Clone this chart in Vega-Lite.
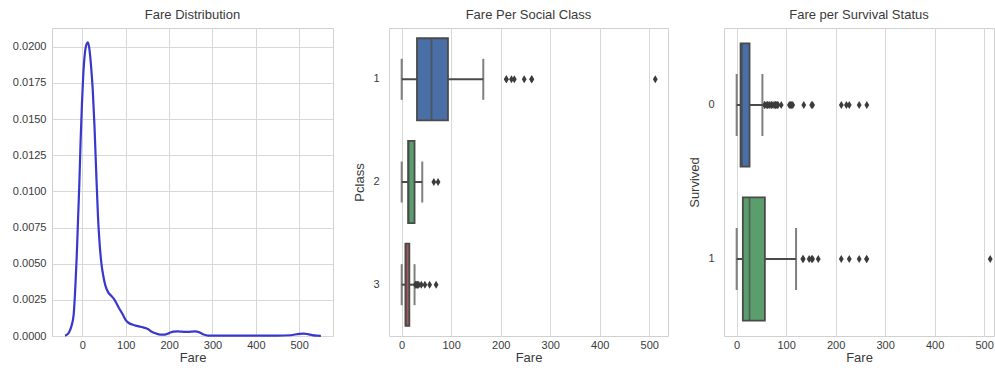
{
  "$schema": "https://vega.github.io/schema/vega-lite/v6.json",
  "padding": {"left": 11, "top": 8, "right": 0, "bottom": 0},
  "background": "white",
  "bounds": "flush",
  "spacing": 56,
  "resolve": {"scale": {"color": "independent"}},
  "config": {
    "font": "Liberation Sans",
    "view": {"stroke": "#d0d0d0", "strokeWidth": 1},
    "axis": {
      "domain": false, "ticks": false, "tickSize": 0,
      "labelFont": "Liberation Sans", "labelFontSize": 11, "labelColor": "#3a3a3a",
      "titleFont": "Liberation Sans", "titleFontSize": 13, "titleFontWeight": "normal", "titleColor": "#3a3a3a",
      "gridColor": "#d8d8d8", "gridWidth": 1
    },
    "axisX": {"labelPadding": 3, "titlePadding": 1},
    "title": {"font": "Liberation Sans", "fontSize": 13, "fontWeight": "normal", "color": "#3a3a3a", "offset": 6}
  },
  "datasets": {
    "kde": [
      {"Fare": -40, "Density": 0.00003}, {"Fare": -35, "Density": 0.0001}, {"Fare": -30, "Density": 0.0003},
      {"Fare": -25, "Density": 0.0007}, {"Fare": -20, "Density": 0.0015}, {"Fare": -16, "Density": 0.0035},
      {"Fare": -13, "Density": 0.0055}, {"Fare": -10, "Density": 0.008}, {"Fare": -7, "Density": 0.0105},
      {"Fare": -4, "Density": 0.0135}, {"Fare": -1, "Density": 0.016}, {"Fare": 2, "Density": 0.018},
      {"Fare": 6, "Density": 0.0196}, {"Fare": 10, "Density": 0.0202}, {"Fare": 13, "Density": 0.0203},
      {"Fare": 16, "Density": 0.0199}, {"Fare": 20, "Density": 0.0187}, {"Fare": 24, "Density": 0.017},
      {"Fare": 28, "Density": 0.0145}, {"Fare": 32, "Density": 0.0113}, {"Fare": 36, "Density": 0.0083},
      {"Fare": 40, "Density": 0.0063}, {"Fare": 44, "Density": 0.005}, {"Fare": 48, "Density": 0.0042},
      {"Fare": 53, "Density": 0.0035}, {"Fare": 60, "Density": 0.003}, {"Fare": 66, "Density": 0.0028},
      {"Fare": 72, "Density": 0.0026}, {"Fare": 78, "Density": 0.0023}, {"Fare": 85, "Density": 0.0019},
      {"Fare": 93, "Density": 0.0015}, {"Fare": 100, "Density": 0.0011}, {"Fare": 107, "Density": 0.0009},
      {"Fare": 115, "Density": 0.0008}, {"Fare": 125, "Density": 0.0007}, {"Fare": 140, "Density": 0.0006},
      {"Fare": 150, "Density": 0.0005}, {"Fare": 160, "Density": 0.0003}, {"Fare": 170, "Density": 0.00017},
      {"Fare": 180, "Density": 0.0001}, {"Fare": 190, "Density": 0.0001}, {"Fare": 200, "Density": 0.0002},
      {"Fare": 210, "Density": 0.0003}, {"Fare": 220, "Density": 0.00032}, {"Fare": 230, "Density": 0.0003},
      {"Fare": 240, "Density": 0.00028}, {"Fare": 250, "Density": 0.0003}, {"Fare": 260, "Density": 0.00032},
      {"Fare": 270, "Density": 0.00025}, {"Fare": 280, "Density": 0.0001}, {"Fare": 290, "Density": 0.00003},
      {"Fare": 300, "Density": 0.00002}, {"Fare": 350, "Density": 0.00002}, {"Fare": 400, "Density": 0.00002},
      {"Fare": 450, "Density": 0.00002}, {"Fare": 480, "Density": 0.00005}, {"Fare": 500, "Density": 0.00015},
      {"Fare": 510, "Density": 0.00017}, {"Fare": 520, "Density": 0.00013}, {"Fare": 530, "Density": 0.00006},
      {"Fare": 540, "Density": 0.00002}, {"Fare": 550, "Density": 0.00001}
    ],
    "pclassBox": [
      {"Pclass": "1", "lo": 0, "q1": 30.92, "median": 60.29, "q3": 93.5, "hi": 164.87},
      {"Pclass": "2", "lo": 0, "q1": 13, "median": 14.25, "q3": 26, "hi": 41.58},
      {"Pclass": "3", "lo": 0, "q1": 7.75, "median": 8.05, "q3": 15.5, "hi": 26}
    ],
    "pclassOut": [
      {"Pclass": "1", "Fare": 211.34}, {"Pclass": "1", "Fare": 211.5}, {"Pclass": "1", "Fare": 221.78},
      {"Pclass": "1", "Fare": 227.53}, {"Pclass": "1", "Fare": 247.52}, {"Pclass": "1", "Fare": 262.38},
      {"Pclass": "1", "Fare": 263}, {"Pclass": "1", "Fare": 512.33},
      {"Pclass": "2", "Fare": 65}, {"Pclass": "2", "Fare": 73.5},
      {"Pclass": "3", "Fare": 27.9}, {"Pclass": "3", "Fare": 29.13}, {"Pclass": "3", "Fare": 31.28},
      {"Pclass": "3", "Fare": 31.39}, {"Pclass": "3", "Fare": 34.38}, {"Pclass": "3", "Fare": 39.69},
      {"Pclass": "3", "Fare": 46.9}, {"Pclass": "3", "Fare": 56.5}, {"Pclass": "3", "Fare": 69.55}
    ],
    "survBox": [
      {"Survived": "0", "lo": 0, "q1": 7.85, "median": 10.5, "q3": 26, "hi": 52},
      {"Survived": "1", "lo": 0, "q1": 12.48, "median": 26, "q3": 57, "hi": 120}
    ],
    "survOut": [
      {"Survived": "0", "Fare": 56.5}, {"Survived": "0", "Fare": 57}, {"Survived": "0", "Fare": 61.18},
      {"Survived": "0", "Fare": 61.98}, {"Survived": "0", "Fare": 63.36}, {"Survived": "0", "Fare": 66.6},
      {"Survived": "0", "Fare": 69.55}, {"Survived": "0", "Fare": 71}, {"Survived": "0", "Fare": 73.5},
      {"Survived": "0", "Fare": 77.29}, {"Survived": "0", "Fare": 77.96}, {"Survived": "0", "Fare": 79.2},
      {"Survived": "0", "Fare": 79.65}, {"Survived": "0", "Fare": 82.17}, {"Survived": "0", "Fare": 83.48},
      {"Survived": "0", "Fare": 90}, {"Survived": "0", "Fare": 106.43}, {"Survived": "0", "Fare": 108.9},
      {"Survived": "0", "Fare": 110.88}, {"Survived": "0", "Fare": 113.28}, {"Survived": "0", "Fare": 135.63},
      {"Survived": "0", "Fare": 151.55}, {"Survived": "0", "Fare": 153.46}, {"Survived": "0", "Fare": 211.5},
      {"Survived": "0", "Fare": 221.78}, {"Survived": "0", "Fare": 227.53}, {"Survived": "0", "Fare": 247.52},
      {"Survived": "0", "Fare": 263},
      {"Survived": "1", "Fare": 133.65}, {"Survived": "1", "Fare": 134.5}, {"Survived": "1", "Fare": 146.52},
      {"Survived": "1", "Fare": 151.55}, {"Survived": "1", "Fare": 153.46}, {"Survived": "1", "Fare": 164.87},
      {"Survived": "1", "Fare": 211.34}, {"Survived": "1", "Fare": 227.53}, {"Survived": "1", "Fare": 247.52},
      {"Survived": "1", "Fare": 262.38}, {"Survived": "1", "Fare": 263}, {"Survived": "1", "Fare": 512.33}
    ]
  },
  "hconcat": [
    {
      "width": 281, "height": 308,
      "title": "Fare Distribution",
      "data": {"name": "kde"},
      "mark": {"type": "line", "interpolate": "monotone", "color": "#3838cc", "strokeWidth": 2.2},
      "encoding": {
        "x": {"field": "Fare", "type": "quantitative", "scale": {"domain": [-70, 578], "nice": false, "zero": false},
              "axis": {"values": [0, 100, 200, 300, 400, 500], "title": "Fare"}},
        "y": {"field": "Density", "type": "quantitative", "scale": {"domain": [0, 0.0213], "nice": false},
              "axis": {"values": [0, 0.0025, 0.005, 0.0075, 0.01, 0.0125, 0.015, 0.0175, 0.02], "format": ".4f", "title": null, "labelPadding": 6}}
      }
    },
    {
      "width": 279, "height": 308,
      "title": "Fare Per Social Class",
      "encoding": {
        "y": {"field": "Pclass", "type": "nominal", "scale": {"domain": ["1", "2", "3"], "paddingInner": 0.2, "paddingOuter": 0.1},
              "axis": {"title": "Pclass", "grid": false, "labelPadding": 10, "titlePadding": 6, "labelAngle": 0}}
      },
      "layer": [
        {
          "data": {"name": "pclassBox"},
          "mark": {"type": "rule", "color": "#4a4a4a", "strokeWidth": 2},
          "encoding": {
            "x": {"field": "lo", "type": "quantitative", "scale": {"domain": [-25.6, 538], "nice": false, "zero": false},
                  "axis": {"values": [0, 100, 200, 300, 400, 500], "title": "Fare"}},
            "x2": {"field": "hi"}
          }
        },
        {
          "data": {"name": "pclassBox"},
          "mark": {"type": "bar", "stroke": "#4a4a4a", "strokeWidth": 1.8},
          "encoding": {
            "x": {"field": "q1", "type": "quantitative"},
            "x2": {"field": "q3"},
            "color": {"field": "Pclass", "type": "nominal", "scale": {"domain": ["1", "2", "3"], "range": ["#4a6fa6", "#5a9e6d", "#a05a5c"]}, "legend": null}
          }
        },
        {
          "data": {"name": "pclassBox"},
          "mark": {"type": "tick", "color": "#4a4a4a", "thickness": 1.8, "size": 82},
          "encoding": {"x": {"field": "median", "type": "quantitative"}}
        },
        {
          "data": {"name": "pclassBox"},
          "mark": {"type": "tick", "color": "#4a4a4a", "thickness": 2, "size": 41},
          "encoding": {"x": {"field": "lo", "type": "quantitative"}}
        },
        {
          "data": {"name": "pclassBox"},
          "mark": {"type": "tick", "color": "#4a4a4a", "thickness": 2, "size": 41},
          "encoding": {"x": {"field": "hi", "type": "quantitative"}}
        },
        {
          "data": {"name": "pclassOut"},
          "mark": {"type": "point", "shape": "M0,-1L0.6,0L0,1L-0.6,0Z", "filled": true, "color": "#3c3c3c", "opacity": 1, "size": 64},
          "encoding": {"x": {"field": "Fare", "type": "quantitative"}}
        }
      ]
    },
    {
      "width": 270, "height": 308,
      "title": "Fare per Survival Status",
      "encoding": {
        "y": {"field": "Survived", "type": "nominal", "scale": {"domain": ["0", "1"], "paddingInner": 0.2, "paddingOuter": 0.1},
              "axis": {"title": "Survived", "grid": false, "labelPadding": 10, "titlePadding": 6, "labelAngle": 0}}
      },
      "layer": [
        {
          "data": {"name": "survBox"},
          "mark": {"type": "rule", "color": "#4a4a4a", "strokeWidth": 2},
          "encoding": {
            "x": {"field": "lo", "type": "quantitative", "scale": {"domain": [-25.6, 520], "nice": false, "zero": false},
                  "axis": {"values": [0, 100, 200, 300, 400, 500], "title": "Fare"}},
            "x2": {"field": "hi"}
          }
        },
        {
          "data": {"name": "survBox"},
          "mark": {"type": "bar", "stroke": "#4a4a4a", "strokeWidth": 1.8},
          "encoding": {
            "x": {"field": "q1", "type": "quantitative"},
            "x2": {"field": "q3"},
            "color": {"field": "Survived", "type": "nominal", "scale": {"domain": ["0", "1"], "range": ["#4a6fa6", "#5a9e6d"]}, "legend": null}
          }
        },
        {
          "data": {"name": "survBox"},
          "mark": {"type": "tick", "color": "#4a4a4a", "thickness": 1.8, "size": 123},
          "encoding": {"x": {"field": "median", "type": "quantitative"}}
        },
        {
          "data": {"name": "survBox"},
          "mark": {"type": "tick", "color": "#4a4a4a", "thickness": 2, "size": 62},
          "encoding": {"x": {"field": "lo", "type": "quantitative"}}
        },
        {
          "data": {"name": "survBox"},
          "mark": {"type": "tick", "color": "#4a4a4a", "thickness": 2, "size": 62},
          "encoding": {"x": {"field": "hi", "type": "quantitative"}}
        },
        {
          "data": {"name": "survOut"},
          "mark": {"type": "point", "shape": "M0,-1L0.6,0L0,1L-0.6,0Z", "filled": true, "color": "#3c3c3c", "opacity": 1, "size": 64},
          "encoding": {"x": {"field": "Fare", "type": "quantitative"}}
        }
      ]
    }
  ]
}
